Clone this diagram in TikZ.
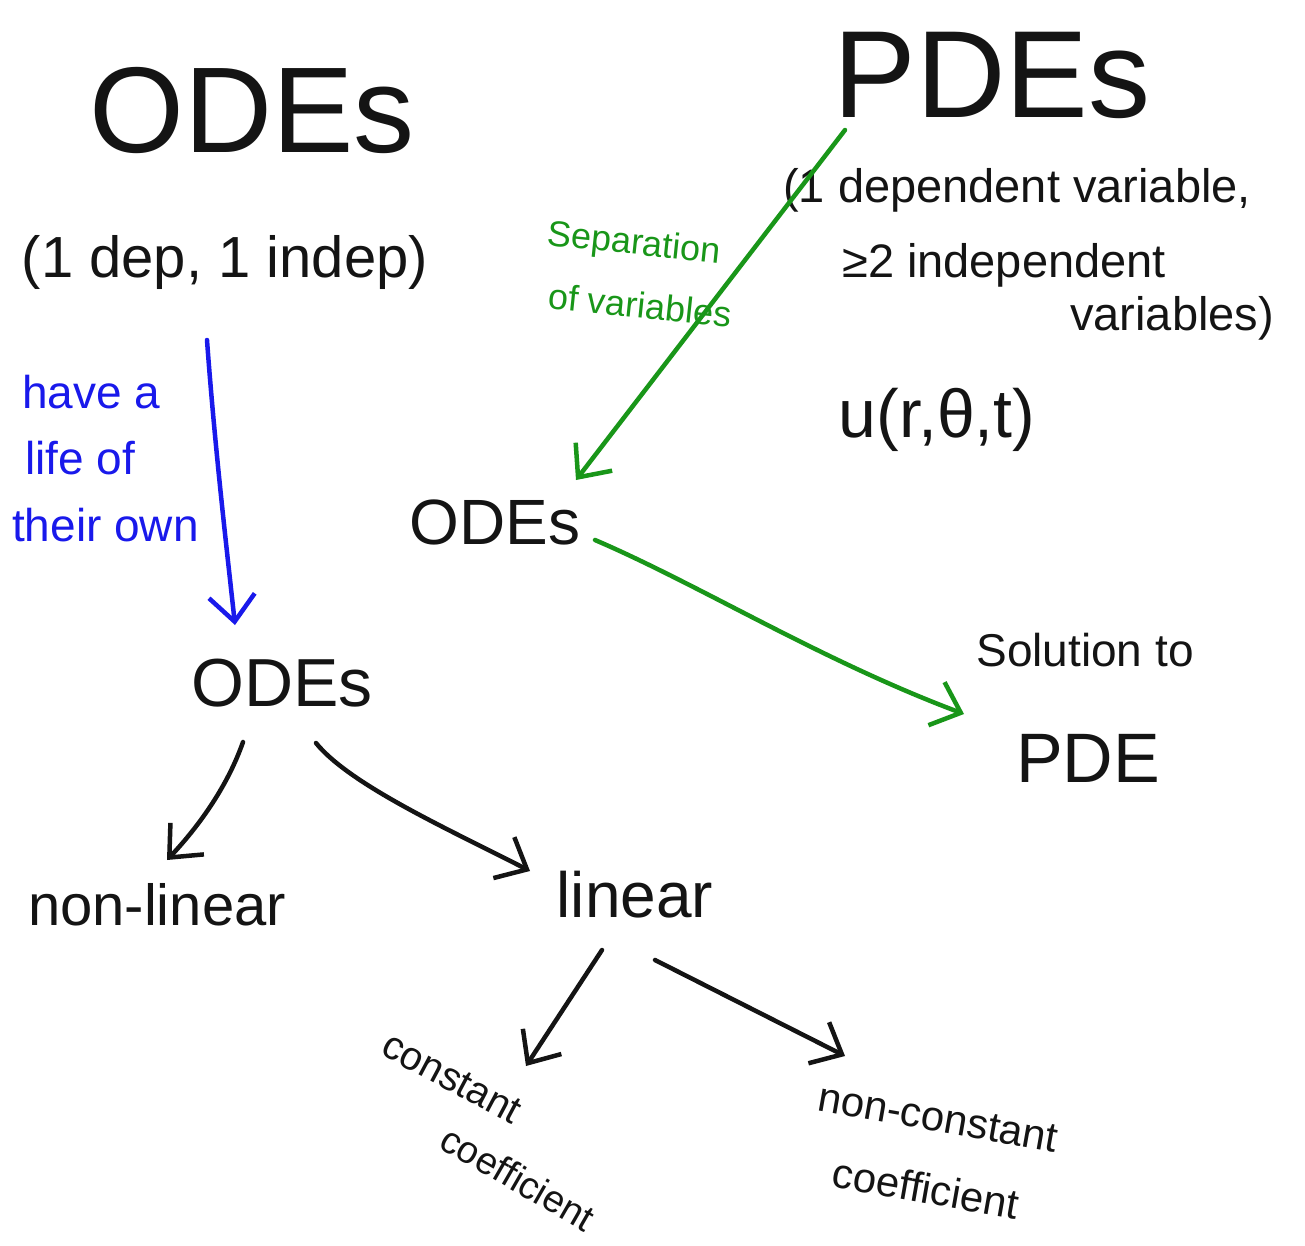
\documentclass[tikz,border=0pt]{standalone}
\usepackage{fontspec}
\setmainfont{Liberation Sans}
\usetikzlibrary{arrows.meta}
\definecolor{pgreen}{RGB}{25,150,25}
\definecolor{pblue}{RGB}{25,25,235}
\definecolor{ink}{RGB}{20,20,20}
\newcommand{\myfs}[1]{\fontsize{#1}{#1}\selectfont}
\begin{document}
\begin{tikzpicture}[x=1pt,y=-1pt,
  txt/.style={inner sep=0pt, text=ink},
  gtxt/.style={inner sep=0pt, text=pgreen},
  btxt/.style={inner sep=0pt, text=pblue},
  conn/.style={line width=4.5pt, draw=ink, line cap=round, line join=round,
    -{Straight Barb[length=26pt,width=46pt]}},
  gconn/.style={conn, draw=pgreen},
  bconn/.style={conn, draw=pblue}]
\useasboundingbox (0,0) rectangle (1305,1245);
% titles
\node[txt, font=\myfs{122}] (odesA) at (252,110) {ODEs};
\node[txt, font=\myfs{58}] (odeinfo) at (225,262) {(1 dep, 1 indep)};
\node[txt, font=\myfs{124}] (pdes) at (992,75) {PDEs};
\node[txt, font=\myfs{47}, anchor=west] (pdeA) at (783,190) {(1 dependent variable,};
\node[txt, font=\myfs{47}, anchor=west] (pdeB) at (842,265) {≥2 independent};
\node[txt, font=\myfs{47}, anchor=west] (pdeC) at (1070,318) {variables)};
\node[txt, font=\myfs{68}] (u) at (937,420) {u(r,θ,t)};
% green labels
\node[gtxt, font=\myfs{36}, rotate=-6] (sepA) at (634,245) {Separation};
\node[gtxt, font=\myfs{36}, rotate=-6] (sepB) at (640,305) {of variables};
% middle
\node[txt, font=\myfs{64}] (odesB) at (495,522) {ODEs};
\node[txt, font=\myfs{46}] (solA) at (1085,650) {Solution to};
\node[txt, font=\myfs{70}] (solB) at (1088,758) {PDE};
% blue labels
\node[btxt, font=\myfs{46}, anchor=west] (blA) at (22,392) {have a};
\node[btxt, font=\myfs{46}, anchor=west] (blB) at (25,458) {life of};
\node[btxt, font=\myfs{46}, anchor=west] (blC) at (12,525) {their own};
% lower tree
\node[txt, font=\myfs{68}] (odesC) at (282,683) {ODEs};
\node[txt, font=\myfs{58}] (nonlin) at (157,905) {non-linear};
\node[txt, font=\myfs{64}] (lin) at (635,895) {linear};
\node[txt, font=\myfs{40}, rotate=-28] (ccA) at (452,1078) {constant};
\node[txt, font=\myfs{38}, rotate=-30] (ccB) at (518,1178) {coefficient};
\node[txt, font=\myfs{42}, rotate=-10] (ncA) at (938,1118) {non-constant};
\node[txt, font=\myfs{42}, rotate=-10] (ncB) at (926,1188) {coefficient};
% connector end points
\coordinate (g1s) at (845,130);
\coordinate (g1e) at (576,480);
\coordinate (g2s) at (595,540);
\coordinate (g2e) at (964,714);
\coordinate (b1s) at (207,340);
\coordinate (b1e) at (235,625);
\coordinate (k1s) at (243,742);
\coordinate (k1e) at (167,860);
\coordinate (k2s) at (316,743);
\coordinate (k2e) at (530,871);
\coordinate (k3s) at (602,950);
\coordinate (k3e) at (526,1066);
\coordinate (k4s) at (655,960);
\coordinate (k4e) at (845,1056);
% connectors
\draw[gconn] (g1s) -- (g1e);
\draw[gconn] (g2s) .. controls (700,585) and (820,660) .. (g2e);
\draw[bconn] (b1s) .. controls (215,450) and (228,560) .. (b1e);
\draw[conn] (k1s) .. controls (228,785) and (200,825) .. (k1e);
\draw[conn] (k2s) .. controls (350,785) and (450,830) .. (k2e);
\draw[conn] (k3s) -- (k3e);
\draw[conn] (k4s) -- (k4e);
\end{tikzpicture}
\end{document}
